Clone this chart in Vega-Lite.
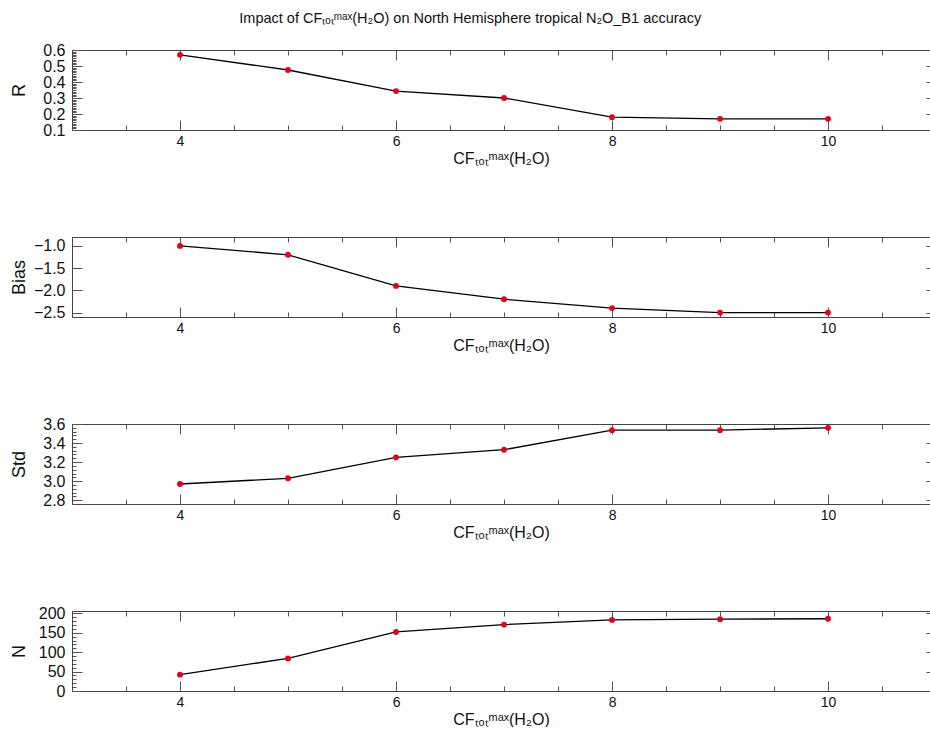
{
  "$schema": "https://vega.github.io/schema/vega-lite/v6.json",
  "usermeta": {"embedOptions": {"actions": false}},
  "padding": {"left": 10, "top": 10, "right": 0, "bottom": 0},
  "title": {"text": "Impact of CFₜₒₜᵐᵃˣ(H₂O) on North Hemisphere tropical N₂O_B1 accuracy", "anchor": "middle", "frame": "bounds", "fontSize": 14.5, "fontWeight": "normal", "font": "Liberation Sans", "color": "#111", "offset": 16},
  "data": {"values": [
    {"cf": 4, "R": 0.57, "Bias": -1.0, "Std": 2.97, "N": 42},
    {"cf": 5, "R": 0.475, "Bias": -1.2, "Std": 3.03, "N": 84},
    {"cf": 6, "R": 0.343, "Bias": -1.9, "Std": 3.25, "N": 152},
    {"cf": 7, "R": 0.30, "Bias": -2.2, "Std": 3.33, "N": 171},
    {"cf": 8, "R": 0.18, "Bias": -2.4, "Std": 3.535, "N": 183},
    {"cf": 9, "R": 0.17, "Bias": -2.5, "Std": 3.535, "N": 185},
    {"cf": 10, "R": 0.17, "Bias": -2.5, "Std": 3.56, "N": 186}
  ]},
  "bounds": "flush",
  "spacing": 107,
  "vconcat": [
    {
      "width": 858, "height": 80,
      "layer": [
        {"mark": {"type": "line", "color": "#000", "strokeWidth": 1.3},
         "encoding": {
           "x": {"field": "cf", "type": "quantitative", "scale": {"domain": [3, 10.944], "nice": false, "zero": false},
                 "axis": {"orient": "bottom", "title": "CFₜₒₜᵐᵃˣ(H₂O)", "values": [3,3.5,4,4.5,5,5.5,6,6.5,7,7.5,8,8.5,9,9.5,10,10.5], "labelExpr": "datum.value % 2 === 0 ? format(datum.value, 'd') : ''", "tickSize": {"condition": {"test": "datum.value % 2 === 0", "value": -10}, "value": -5}, "labelPadding": 14, "titleY": 28, "titleBaseline": "middle"}},
           "y": {"field": "R", "type": "quantitative", "scale": {"domain": [0.1, 0.6], "nice": false, "zero": false},
                 "axis": {"orient": "left", "title": "R", "values": [0.1,0.11,0.12,0.13,0.14,0.15,0.16,0.17,0.18,0.19,0.2,0.21,0.22,0.23,0.24,0.25,0.26,0.27,0.28,0.29,0.3,0.31,0.32,0.33,0.34,0.35,0.36,0.37,0.38,0.39,0.4,0.41,0.42,0.43,0.44,0.45,0.46,0.47,0.48,0.49,0.5,0.51,0.52,0.53,0.54,0.55,0.56,0.57,0.58,0.59,0.6], "labelExpr": "abs(datum.value*10 - round(datum.value*10)) < 0.001 ? format(datum.value, '.1f') : ''", "tickSize": {"condition": {"test": "abs(datum.value*10 - round(datum.value*10)) < 0.001", "value": -10}, "value": -4}, "labelPadding": 17, "titleX": -44, "titleY": 40}}
         }},
        {"mark": {"type": "point", "filled": true, "color": "#e0001b", "size": 34, "opacity": 1},
         "encoding": {
           "x": {"field": "cf", "type": "quantitative", "scale": {"domain": [3, 10.944], "nice": false, "zero": false},
                 "axis": {"orient": "top", "title": null, "labels": false, "values": [3,3.5,4,4.5,5,5.5,6,6.5,7,7.5,8,8.5,9,9.5,10,10.5], "tickSize": {"condition": {"test": "datum.value % 2 === 0", "value": -10}, "value": -5}}},
           "y": {"field": "R", "type": "quantitative", "scale": {"domain": [0.1, 0.6], "nice": false, "zero": false},
                 "axis": {"orient": "right", "title": null, "labels": false, "domain": false, "values": [0.2,0.3,0.4,0.5], "tickSize": -4}}
         }}
      ],
      "resolve": {"axis": {"x": "independent", "y": "independent"}}
    },
    {
      "width": 858, "height": 80,
      "layer": [
        {"mark": {"type": "line", "color": "#000", "strokeWidth": 1.3},
         "encoding": {
           "x": {"field": "cf", "type": "quantitative", "scale": {"domain": [3, 10.944], "nice": false, "zero": false},
                 "axis": {"orient": "bottom", "title": "CFₜₒₜᵐᵃˣ(H₂O)", "values": [3,3.5,4,4.5,5,5.5,6,6.5,7,7.5,8,8.5,9,9.5,10,10.5], "labelExpr": "datum.value % 2 === 0 ? format(datum.value, 'd') : ''", "tickSize": {"condition": {"test": "datum.value % 2 === 0", "value": -10}, "value": -5}, "labelPadding": 14, "titleY": 28, "titleBaseline": "middle"}},
           "y": {"field": "Bias", "type": "quantitative", "scale": {"domain": [-2.6, -0.8], "nice": false, "zero": false},
                 "axis": {"orient": "left", "title": "Bias", "values": [-2.5,-2,-1.5,-1], "format": ".1f", "tickSize": -10, "labelPadding": 17, "titleX": -44, "titleY": 40}}
         }},
        {"mark": {"type": "point", "filled": true, "color": "#e0001b", "size": 34, "opacity": 1},
         "encoding": {
           "x": {"field": "cf", "type": "quantitative", "scale": {"domain": [3, 10.944], "nice": false, "zero": false},
                 "axis": {"orient": "top", "title": null, "labels": false, "values": [3,3.5,4,4.5,5,5.5,6,6.5,7,7.5,8,8.5,9,9.5,10,10.5], "tickSize": {"condition": {"test": "datum.value % 2 === 0", "value": -10}, "value": -5}}},
           "y": {"field": "Bias", "type": "quantitative", "scale": {"domain": [-2.6, -0.8], "nice": false, "zero": false},
                 "axis": {"orient": "right", "title": null, "labels": false, "domain": false, "values": [-2.5,-2,-1.5,-1], "tickSize": -4}}
         }}
      ],
      "resolve": {"axis": {"x": "independent", "y": "independent"}}
    },
    {
      "width": 858, "height": 80,
      "layer": [
        {"mark": {"type": "line", "color": "#000", "strokeWidth": 1.3},
         "encoding": {
           "x": {"field": "cf", "type": "quantitative", "scale": {"domain": [3, 10.944], "nice": false, "zero": false},
                 "axis": {"orient": "bottom", "title": "CFₜₒₜᵐᵃˣ(H₂O)", "values": [3,3.5,4,4.5,5,5.5,6,6.5,7,7.5,8,8.5,9,9.5,10,10.5], "labelExpr": "datum.value % 2 === 0 ? format(datum.value, 'd') : ''", "tickSize": {"condition": {"test": "datum.value % 2 === 0", "value": -10}, "value": -5}, "labelPadding": 14, "titleY": 28, "titleBaseline": "middle"}},
           "y": {"field": "Std", "type": "quantitative", "scale": {"domain": [2.76, 3.6], "nice": false, "zero": false},
                 "axis": {"orient": "left", "title": "Std", "values": [2.76,2.8,2.84,2.88,2.92,2.96,3.0,3.04,3.08,3.12,3.16,3.2,3.24,3.28,3.32,3.36,3.4,3.44,3.48,3.52,3.56,3.6], "labelExpr": "abs(datum.value*5 - round(datum.value*5)) < 0.001 ? format(datum.value, '.1f') : ''", "tickSize": {"condition": {"test": "abs(datum.value*5 - round(datum.value*5)) < 0.001", "value": -10}, "value": -4}, "labelPadding": 17, "titleX": -44, "titleY": 40}}
         }},
        {"mark": {"type": "point", "filled": true, "color": "#e0001b", "size": 34, "opacity": 1},
         "encoding": {
           "x": {"field": "cf", "type": "quantitative", "scale": {"domain": [3, 10.944], "nice": false, "zero": false},
                 "axis": {"orient": "top", "title": null, "labels": false, "values": [3,3.5,4,4.5,5,5.5,6,6.5,7,7.5,8,8.5,9,9.5,10,10.5], "tickSize": {"condition": {"test": "datum.value % 2 === 0", "value": -10}, "value": -5}}},
           "y": {"field": "Std", "type": "quantitative", "scale": {"domain": [2.76, 3.6], "nice": false, "zero": false},
                 "axis": {"orient": "right", "title": null, "labels": false, "domain": false, "values": [2.8,3.0,3.2,3.4], "tickSize": -4}}
         }}
      ],
      "resolve": {"axis": {"x": "independent", "y": "independent"}}
    },
    {
      "width": 858, "height": 80,
      "layer": [
        {"mark": {"type": "line", "color": "#000", "strokeWidth": 1.3},
         "encoding": {
           "x": {"field": "cf", "type": "quantitative", "scale": {"domain": [3, 10.944], "nice": false, "zero": false},
                 "axis": {"orient": "bottom", "title": "CFₜₒₜᵐᵃˣ(H₂O)", "values": [3,3.5,4,4.5,5,5.5,6,6.5,7,7.5,8,8.5,9,9.5,10,10.5], "labelExpr": "datum.value % 2 === 0 ? format(datum.value, 'd') : ''", "tickSize": {"condition": {"test": "datum.value % 2 === 0", "value": -10}, "value": -5}, "labelPadding": 14, "titleY": 28, "titleBaseline": "middle"}},
           "y": {"field": "N", "type": "quantitative", "scale": {"domain": [0, 206], "nice": false, "zero": false},
                 "axis": {"orient": "left", "title": "N", "values": [0,10,20,30,40,50,60,70,80,90,100,110,120,130,140,150,160,170,180,190,200], "labelExpr": "datum.value % 50 === 0 ? format(datum.value, 'd') : ''", "tickSize": {"condition": {"test": "datum.value % 50 === 0", "value": -10}, "value": -4}, "labelPadding": 17, "titleX": -44, "titleY": 40}}
         }},
        {"mark": {"type": "point", "filled": true, "color": "#e0001b", "size": 34, "opacity": 1},
         "encoding": {
           "x": {"field": "cf", "type": "quantitative", "scale": {"domain": [3, 10.944], "nice": false, "zero": false},
                 "axis": {"orient": "top", "title": null, "labels": false, "values": [3,3.5,4,4.5,5,5.5,6,6.5,7,7.5,8,8.5,9,9.5,10,10.5], "tickSize": {"condition": {"test": "datum.value % 2 === 0", "value": -10}, "value": -5}}},
           "y": {"field": "N", "type": "quantitative", "scale": {"domain": [0, 206], "nice": false, "zero": false},
                 "axis": {"orient": "right", "title": null, "labels": false, "domain": false, "values": [50,100,150,200], "tickSize": -4}}
         }}
      ],
      "resolve": {"axis": {"x": "independent", "y": "independent"}}
    }
  ],
  "config": {
    "view": {"stroke": null},
    "font": "Liberation Sans",
    "axis": {"grid": false, "domainColor": "#444", "domainWidth": 1, "tickColor": "#555", "tickWidth": 1, "labelFont": "Liberation Sans", "titleFont": "Liberation Sans", "labelColor": "#111", "titleColor": "#111", "titleFontWeight": "normal", "labelOverlap": false, "labelBound": false, "labelFlush": false},
    "axisX": {"labelFontSize": 14, "titleFontSize": 16},
    "axisY": {"labelFontSize": 16, "titleFontSize": 18}
  }
}
